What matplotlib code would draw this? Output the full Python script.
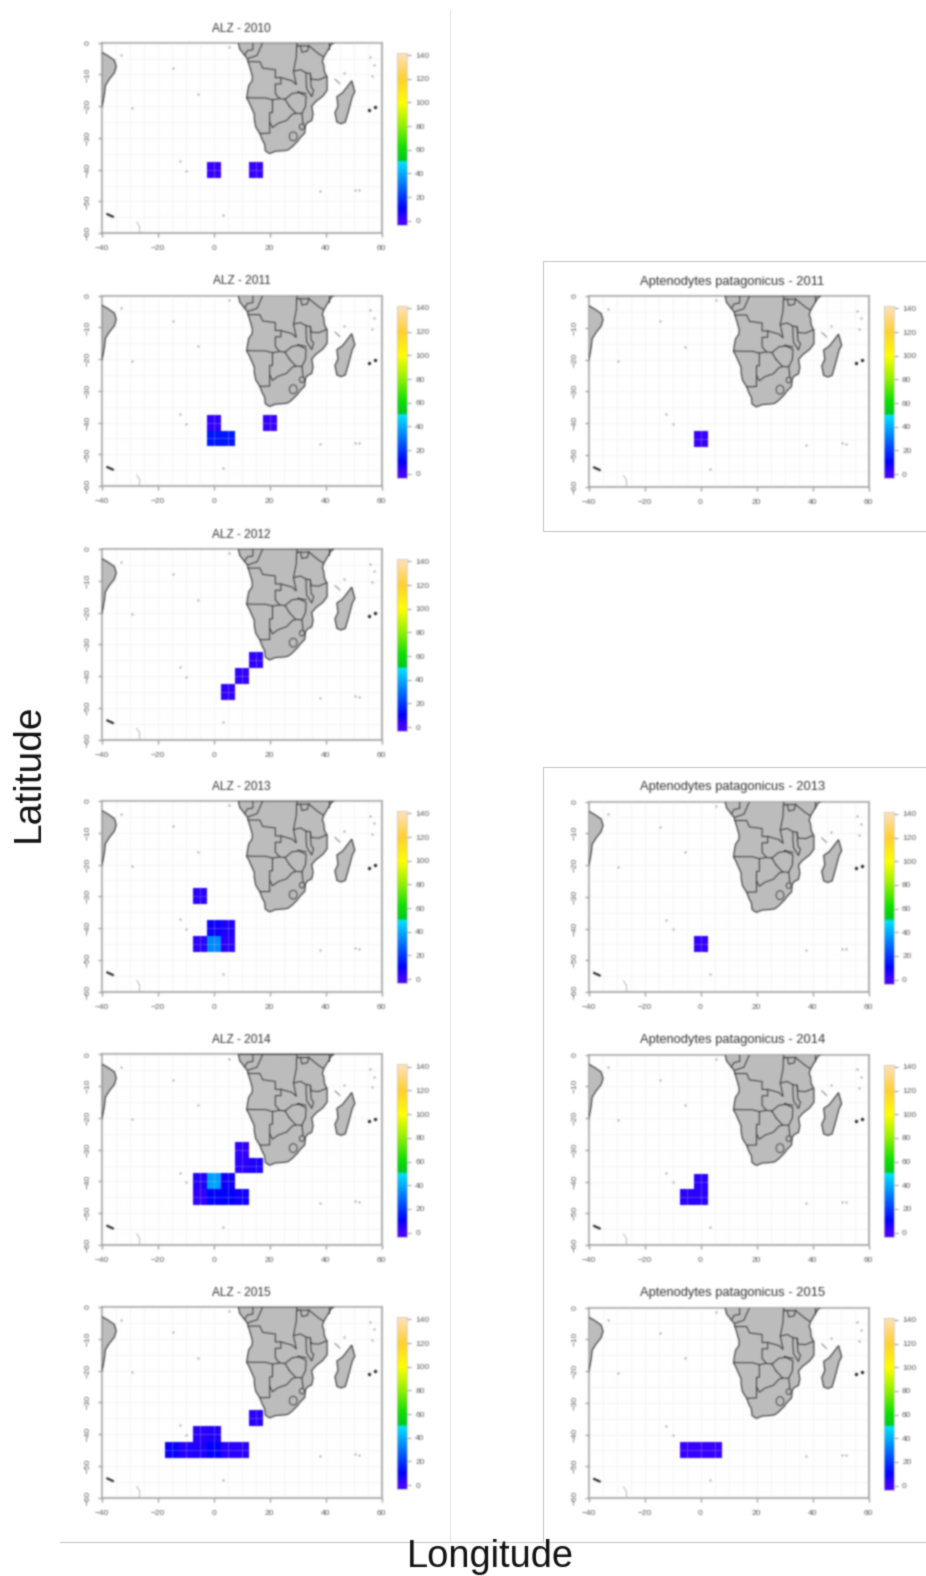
import numpy as np
import matplotlib
matplotlib.use("Agg")
import matplotlib.pyplot as plt
from matplotlib.colors import LinearSegmentedColormap, Normalize
from matplotlib.lines import Line2D
from matplotlib.patches import Rectangle, Polygon, Circle

plt.rcParams['font.family'] = ['Liberation Sans', 'DejaVu Sans']

W, H = 926, 1576

# ---- data: cell longitude, latitude and count per panel ----
alz_2010_lon = [0, 15]
alz_2010_lat = [-40, -40]
alz_2010_val = [2, 2]
alz_2011_lon = [0, 20, 0, 5]
alz_2011_lat = [-40, -40, -45, -45]
alz_2011_val = [3, 2, 14, 14]
alz_2012_lon = [15, 10, 5]
alz_2012_lat = [-35, -40, -45]
alz_2012_val = [3, 3, 3]
alz_2013_lon = [-5, 0, 5, -5, 0, 5]
alz_2013_lat = [-30, -40, -40, -45, -45, -45]
alz_2013_val = [4, 8, 6, 4, 34, 4]
alz_2014_lon = [10, 10, 15, -5, 0, 5, -5, 0, 5, 10]
alz_2014_lat = [-30, -35, -35, -40, -40, -40, -45, -45, -45, -45]
alz_2014_val = [3, 4, 6, 5, 38, 8, 3, 10, 10, 8]
alz_2015_lon = [15, -5, 0, -15, -10, -5, 0, 5, 10]
alz_2015_lat = [-35, -40, -40, -45, -45, -45, -45, -45, -45]
alz_2015_val = [4, 4, 5, 9, 5, 6, 10, 4, 4]
apt_2011_lon = [0]
apt_2011_lat = [-45]
apt_2011_val = [2]
apt_2013_lon = [0]
apt_2013_lat = [-45]
apt_2013_val = [3]
apt_2014_lon = [0, -5, 0]
apt_2014_lat = [-40, -45, -45]
apt_2014_val = [4, 4, 4]
apt_2015_lon = [-5, 0, 5]
apt_2015_lat = [-45, -45, -45]
apt_2015_val = [2, 2, 2]

x_ticks = [-40, -20, 0, 20, 40, 60]
y_ticks = [0, -10, -20, -30, -40, -50, -60]
cb_ticks = [0, 20, 40, 60, 80, 100, 120, 140]

# ---- base map (lon, lat) ----
africa = [(8.8,0),(9.3,-2),(11,-3.9),(12,-5),(12.3,-6),(13,-8),(13.8,-10.5),(13.7,-12),(12.5,-13.5),
          (12,-16),(11.8,-17.5),(12.5,-18.5),(13.5,-20.5),(14.5,-22.5),(14.5,-24),(15,-26.5),(16.5,-28.6),
          (17.3,-30.5),(18.2,-32),(18.4,-34),(19.5,-34.7),(20,-34.9),(22,-34.2),(25,-34),(26.5,-33.8),
          (28,-32.8),(30,-31),(31,-29.8),(32.5,-28.5),(32.8,-26),(33.5,-25.2),(35,-24.5),(35.5,-22.5),
          (35,-20),(36.5,-18.5),(39,-16.8),(40.5,-15),(40.5,-11),(39.5,-9),(39.3,-7),(38.8,-6),
          (39.3,-4.5),(41,-2),(42,-0.5),(43,0)]
madagascar = [(49.3,-12),(50.4,-15.5),(49.5,-17),(48,-22),(47,-25),(45.5,-25.5),(44,-25),(43.3,-22),
              (44.4,-20),(44,-17),(46,-15.8),(48,-13.5)]
brazil = [(-40,-3),(-38,-4),(-35.5,-5.5),(-34.8,-7.5),(-35.5,-9.5),(-37.3,-11.5),(-38.7,-13.5),
          (-39,-16),(-39.5,-18.5),(-40,-20.5)]
borders = [
    [(11.8,-17.3),(14,-17.4),(18.5,-17.4),(21,-18),(23.5,-17.6),(25.5,-17.8)],
    [(21,-18),(21,-22),(20,-22),(20,-28.5),(16.5,-28.6)],
    [(20,-25),(21,-26.7),(23,-25.4),(26,-24.5),(28,-22.6),(29.3,-22.2),(31.5,-22.3),(32,-26)],
    [(12.2,-6),(16.5,-6),(17.5,-8),(22,-8.5),(22,-11),(24,-11),(24,-13),(22,-13),(22,-16),(23.5,-17.6)],
    [(24,-11),(28,-12),(29.5,-13.2),(28.5,-9),(29.5,-4.5),(29.6,-1),(30,-1)],
    [(28.5,-9),(31,-8.5),(33,-9.5),(34.5,-9.7),(34.8,-11.5),(37.5,-11.7),(40.5,-10.6)],
    [(34.5,-9.7),(34.8,-14),(35.7,-15),(35,-17),(33.2,-14.5),(33,-12),(33,-9.5)],
    [(25.5,-17.8),(28,-16),(30.5,-15.7),(33,-16.8),(32.8,-20),(31.5,-22.3)],
    [(27,-20),(25.5,-17.8)],[(27,-20),(29.3,-22.2)],
    [(30,-1),(34,-1),(37.5,-3.5),(39.3,-4.5)],
    [(41,-2),(41,0)],
    [(11,-4),(12,-2.5),(14,-2.2),(14,0)],
    [(12.2,-5),(15.5,-4),(17.5,0)],
    [(30,-1),(29.5,0)],
    [(33,-16),(30,-15.5),(30.5,-15.7)],
    [(31,-1),(31.5,-3),(33.5,-2.6),(34,-0.8)],
]
rings = [(28.4,-29.5,1.4),(31.5,-26.5,0.9)]
islands_gray = [(-33,-4),(-14.4,-8),(-5.7,-16),(-29.3,-20.5),(-12.2,-37.2),(-10,-40.3),(3.4,-54.4),
                (37.8,-46.8),(50.5,-46.3),(52,-46.5),(55.8,-4.6),(56.5,-10.4),(46.5,-9.5),(5.5,-1.3),(57.3,-7)]
islands_dark = [(55.6,-21.1),(57.5,-20.3)]
comoros = [(43.3,-11.5),(44.2,-12.2),(45,-12.9)]
georgia = [(-38,-54),(-36,-54.8)]
sandwich = [(-27.5,-56.5),(-26.4,-58),(-26.5,-60)]

cmap = LinearSegmentedColormap.from_list('r_like', [
    (0/140, '#4400ff'), (10/140, '#0000ff'), (20/140, '#0038ff'), (35/140, '#0090ff'), (49.5/140, '#00e4ff'),
    (51/140, '#00c820'), (62/140, '#10e000'), (80/140, '#90f000'), (100/140, '#ffff00'),
    (120/140, '#ffd030'), (140/140, '#ffe0b0')], N=512)
norm = Normalize(0, 140)
CELL = 5.0


def gauss(sigma):
    def f(img, dpi):
        pad = int(np.ceil(sigma * 3))
        im = np.pad(img, ((pad, pad), (pad, pad), (0, 0)))
        a = im[..., 3:4]
        pm = np.concatenate([im[..., :3] * a, a], axis=2)
        r = np.arange(-pad, pad + 1)
        k = np.exp(-r**2 / (2 * sigma**2))
        k /= k.sum()
        for ax_ in (0, 1):
            F = np.fft.rfft(pm, n=pm.shape[ax_] + 2 * pad + 1, axis=ax_)
            sh = [1, 1, 1]
            sh[ax_] = -1
            K = np.fft.rfft(k, n=pm.shape[ax_] + 2 * pad + 1).reshape(sh)
            o = np.fft.irfft(F * K, n=pm.shape[ax_] + 2 * pad + 1, axis=ax_)
            pm = np.take(o, np.arange(pad, pad + pm.shape[ax_]), axis=ax_)
        al = np.clip(pm[..., 3:4], 1e-6, 1)
        out = np.concatenate([np.clip(pm[..., :3] / al, 0, 1), np.clip(pm[..., 3:4], 0, 1)], axis=2)
        return out, -pad, -pad
    return f


blur = gauss(0.9)
fig = plt.figure(figsize=(W / 100, H / 100), dpi=100)
fig.patch.set_facecolor('white')


def axpx(l, t, r, b):
    return fig.add_axes([l / W, 1 - b / H, (r - l) / W, (b - t) / H])


def fig_line(xs, ys, color='#dcdcdc', lw=1.0):
    fig.add_artist(Line2D([x / W for x in xs], [1 - y / H for y in ys], color=color, lw=lw))


def panel(left, top, title, lon, lat, val, title_size, title_x):
    w, h = 280.0, 190.5
    ax = axpx(left, top, left + w, top + h)
    ax.set_xlim(-40, 60)
    ax.set_ylim(-60, 0)
    for (cx, cy, v) in zip(lon, lat, val):
        ax.add_patch(Rectangle((cx - CELL / 2, cy - CELL / 2), CELL, CELL, facecolor=cmap(norm(v)),
                               edgecolor='none', zorder=2))
    ax.add_patch(Polygon(africa, closed=True, facecolor='#bdbdbd', edgecolor='#333333', lw=0.8, zorder=3))
    ax.add_patch(Polygon(madagascar, closed=True, facecolor='#bdbdbd', edgecolor='#333333', lw=0.8, zorder=3))
    ax.add_patch(Polygon(brazil, closed=True, facecolor='#bdbdbd', edgecolor='#333333', lw=0.8, zorder=3))
    for seg in borders:
        ax.plot(*zip(*seg), color='#333333', lw=0.7, zorder=4)
    for (cx, cy, rr) in rings:
        ax.add_patch(Circle((cx, cy), rr, facecolor='#bdbdbd', edgecolor='#333333', lw=0.6, zorder=4))
    ax.plot(*zip(*islands_gray), ls='none', marker='o', ms=1.6, color='#a8a8a8', mew=0, zorder=4)
    ax.plot(*zip(*islands_dark), ls='none', marker='o', ms=2.4, color='#222222', mew=0, zorder=4)
    ax.plot(*zip(*comoros), color='#777777', lw=0.7, zorder=4)
    ax.plot(*zip(*georgia), color='#111111', lw=1.4, zorder=4)
    ax.plot(*zip(*sandwich), color='#aaaaaa', lw=0.6, zorder=4)

    ax.set_xticks(x_ticks)
    ax.set_yticks(y_ticks)
    ax.set_xticks(np.arange(-40, 61, 5), minor=True)
    ax.set_yticks(np.arange(-60, 1, 5), minor=True)
    ax.grid(which='both', color='#dcdcdc', lw=0.5, ls=':', zorder=5)
    ax.set_axisbelow(False)
    ax.tick_params(which='minor', length=0)
    ax.tick_params(axis='x', which='major', length=3.2, width=0.9, color='#999999', labelcolor='#5a5a5a',
                   labelsize=6, pad=5.5)
    ax.tick_params(axis='y', which='major', length=3.2, width=0.9, color='#999999', labelcolor='#5a5a5a',
                   labelsize=6, pad=4)
    for t_ in ax.get_yticklabels():
        t_.set_rotation(90)
        t_.set_va('center')
    for s in ax.spines.values():
        s.set_color('#a8a8a8')
        s.set_linewidth(1.3)
    ax.set_title(title, fontsize=title_size, color='#333333', pad=8, x=title_x)
    ax.set_agg_filter(blur)

    cb = axpx(left + 295.6, top + 10, left + 305, top + 182.3)
    ramp = np.linspace(-3.5, 142, 300).reshape(-1, 1)
    cb.pcolormesh([0, 1], np.linspace(-3.5, 142, 301), ramp, cmap=cmap, norm=norm, rasterized=False)
    cb.set_ylim(-3.5, 142)
    cb.set_xticks([])
    cb.yaxis.tick_right()
    cb.set_yticks(cb_ticks)
    cb.tick_params(length=3.2, width=0.8, color='#999999', labelcolor='#5a5a5a', labelsize=6, pad=3)
    for s in cb.spines.values():
        s.set_color('#c8c8c8')
        s.set_linewidth(0.5)
    cb.set_agg_filter(blur)


left_tops = [42.7, 295.6, 549, 801, 1054.4, 1307]
left_data = [('ALZ - 2010', alz_2010_lon, alz_2010_lat, alz_2010_val),
             ('ALZ - 2011', alz_2011_lon, alz_2011_lat, alz_2011_val),
             ('ALZ - 2012', alz_2012_lon, alz_2012_lat, alz_2012_val),
             ('ALZ - 2013', alz_2013_lon, alz_2013_lat, alz_2013_val),
             ('ALZ - 2014', alz_2014_lon, alz_2014_lat, alz_2014_val),
             ('ALZ - 2015', alz_2015_lon, alz_2015_lat, alz_2015_val)]
for t_, d in zip(left_tops, left_data):
    panel(101.7, t_, *d, 8.6, 0.5)

right_tops = [296, 801.5, 1054.5, 1307.5]
right_data = [('Aptenodytes patagonicus - 2011', apt_2011_lon, apt_2011_lat, apt_2011_val),
              ('Aptenodytes patagonicus - 2013', apt_2013_lon, apt_2013_lat, apt_2013_val),
              ('Aptenodytes patagonicus - 2014', apt_2014_lon, apt_2014_lat, apt_2014_val),
              ('Aptenodytes patagonicus - 2015', apt_2015_lon, apt_2015_lat, apt_2015_val)]
for t_, d in zip(right_tops, right_data):
    panel(588.5, t_, *d, 9.3, 0.514)

# frames of the assembled figure
fig_line([450, 450], [10, 1542], color='#ececec')
fig_line([60, 926], [1542, 1542], color='#d4d4d4')
fig_line([926, 542.5, 542.5, 926], [261, 261, 531, 531], color='#d4d4d4')
fig_line([926, 542.5, 542.5], [766.5, 766.5, 1542], color='#d4d4d4')

t1 = fig.text(28.5 / W, 1 - 773 / H, 'Latitude', rotation=90, fontsize=28, color='#111111', ha='center', va='center')
t2 = fig.text(490 / W, 1 - 1567 / H, 'Longitude', fontsize=27.4, color='#111111', ha='center', va='baseline')
t1.set_agg_filter(gauss(0.6))
t2.set_agg_filter(gauss(0.6))

fig.savefig('out.png', dpi=100, facecolor='white')
